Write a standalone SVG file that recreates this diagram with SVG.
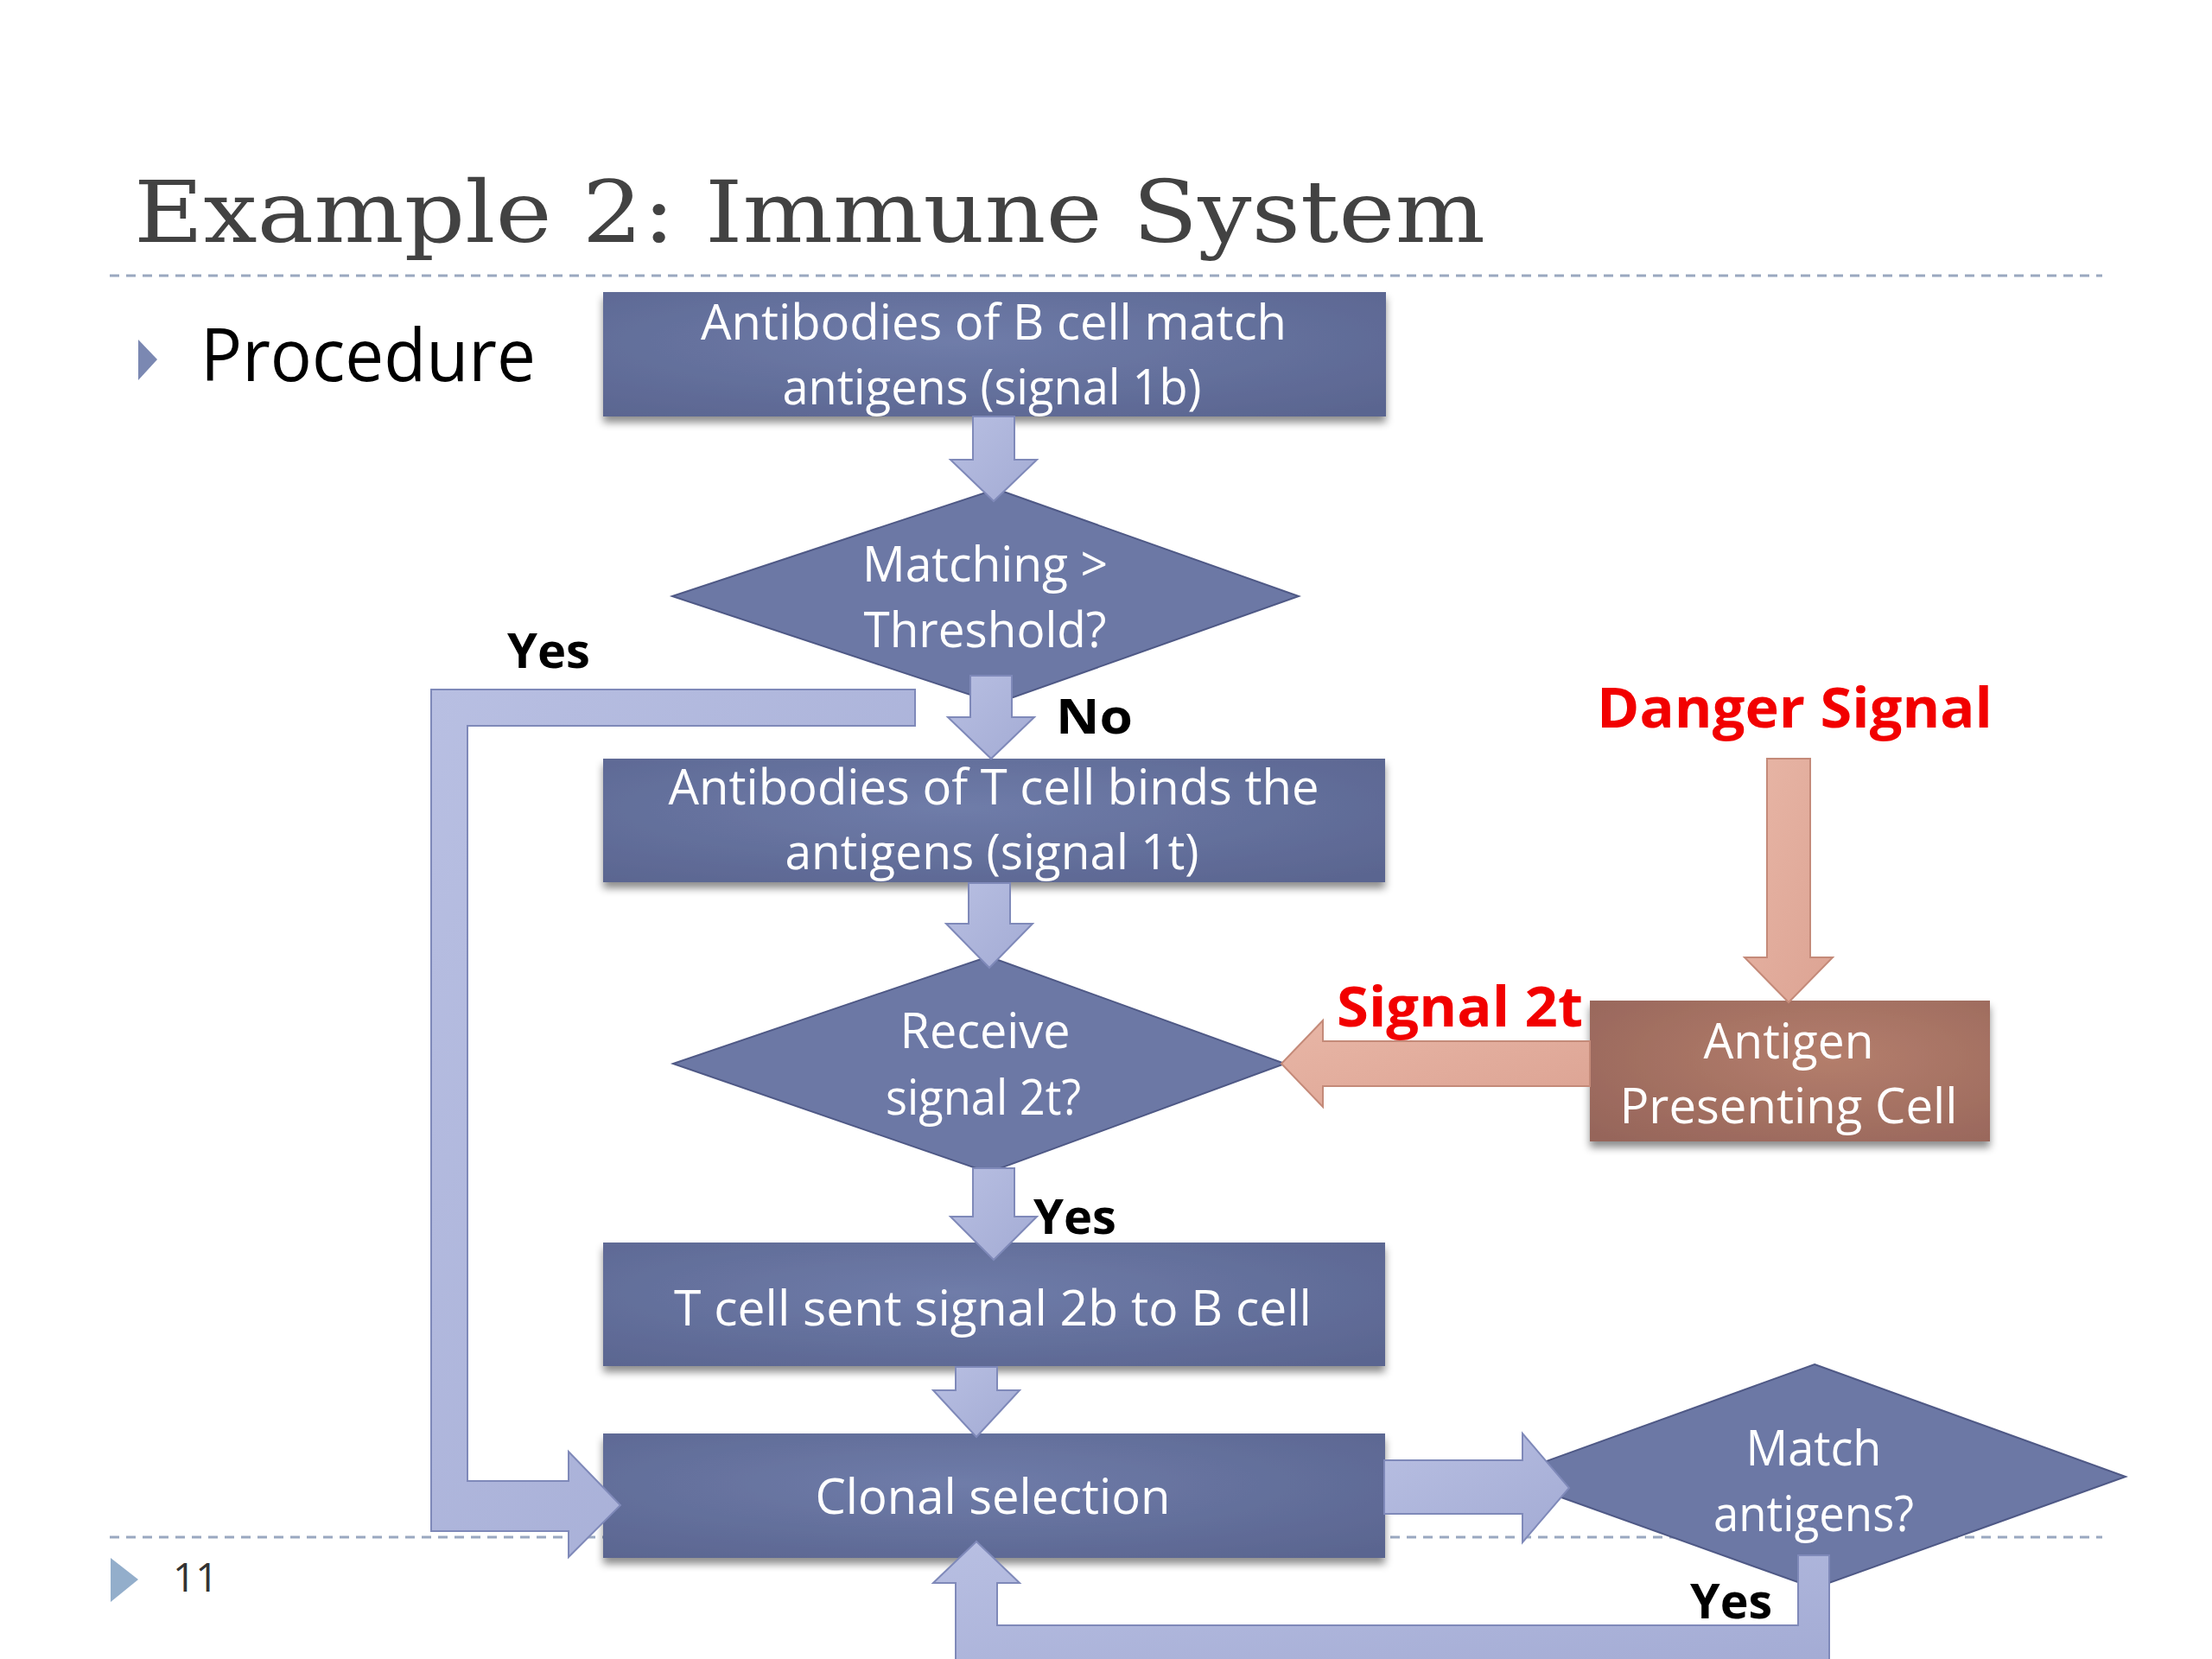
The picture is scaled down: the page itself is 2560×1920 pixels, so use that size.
<svg xmlns="http://www.w3.org/2000/svg" width="2560" height="1920" viewBox="0 0 2560 1920">
<style>
.bg{fill:#ffffff}
.title{font-family:"DejaVu Serif","Liberation Serif",serif;font-size:100px;fill:#424242}
.proc{font-family:"Open Sans","Liberation Sans",sans-serif;font-size:84px;fill:#000}
.box{fill:url(#boxGrad);filter:url(#shadow)}
.dia{fill:#6c78a5;stroke:#4f5986;stroke-width:2}
.apc{fill:url(#apcGrad);filter:url(#shadow)}
.t{font-family:"Open Sans","Liberation Sans",sans-serif;font-size:56px;fill:#ffffff;text-anchor:middle}
.lbl{font-family:"Open Sans","Liberation Sans",sans-serif;font-weight:700;font-size:56px;fill:#000}
.red{font-family:"Open Sans","Liberation Sans",sans-serif;font-weight:700;font-size:64px;fill:#f20000}
.arr{fill:url(#arrGrad);stroke:#7f89b9;stroke-width:2;stroke-linejoin:miter}
.sal{fill:url(#salGrad);stroke:#c48a79;stroke-width:2}
.dash{stroke:#9aa8c0;stroke-width:3;stroke-dasharray:11 8;fill:none}
.pg{font-family:"Open Sans","Liberation Sans",sans-serif;font-size:46px;fill:#333}
</style>
<defs>
<radialGradient id="boxGrad" cx="0.45" cy="0.4" r="0.75">
<stop offset="0" stop-color="#6f7ca9"/>
<stop offset="1" stop-color="#5a6590"/>
</radialGradient>
<radialGradient id="apcGrad" cx="0.6" cy="0.4" r="0.8">
<stop offset="0" stop-color="#b47e6c"/>
<stop offset="1" stop-color="#96655a"/>
</radialGradient>
<linearGradient id="arrGrad" x1="0" y1="0" x2="1" y2="1">
<stop offset="0" stop-color="#b8bfe2"/>
<stop offset="1" stop-color="#a3abd4"/>
</linearGradient>
<linearGradient id="salGrad" x1="0" y1="0" x2="1" y2="1">
<stop offset="0" stop-color="#e8b6a6"/>
<stop offset="1" stop-color="#dca393"/>
</linearGradient>
<filter id="shadow" x="-5%" y="-10%" width="110%" height="130%">
<feDropShadow dx="0" dy="7" stdDeviation="5" flood-color="#000" flood-opacity="0.45"/>
</filter>
</defs>
<rect class="bg" x="0" y="0" width="2560" height="1920"/>

<g id="slide">
<text class="title" x="155" y="280" textLength="1564" lengthAdjust="spacingAndGlyphs">Example 2: Immune System</text>
<line class="dash" x1="127" y1="319" x2="2433" y2="319"/>
<line class="dash" x1="127" y1="1779" x2="2433" y2="1779"/>
<polygon points="160,393 182,416 160,440" fill="#7b88b2"/>
<text class="proc" x="232" y="441" textLength="388" lengthAdjust="spacingAndGlyphs">Procedure</text>
<polygon points="128,1803 160,1828 128,1854" fill="#93aecb"/>
<text class="pg" x="200" y="1842">11</text>
</g>

<g id="node-bcell">
<rect class="box" x="698" y="338" width="906" height="144"/>
<text class="t" x="1150" y="393" textLength="678" lengthAdjust="spacingAndGlyphs">Antibodies of B cell match</text>
<text class="t" x="1148" y="468" textLength="485" lengthAdjust="spacingAndGlyphs">antigens (signal 1b)</text>
</g>
<g id="node-threshold">
<polygon class="dia" points="1153,566 1503,690 1153,814 778,690"/>
<text class="t" x="1140" y="673" textLength="284" lengthAdjust="spacingAndGlyphs">Matching &gt;</text>
<text class="t" x="1140" y="749" textLength="281" lengthAdjust="spacingAndGlyphs">Threshold?</text>
</g>
<g id="node-tcell">
<rect class="box" x="698" y="878" width="905" height="143"/>
<text class="t" x="1150" y="931" textLength="753" lengthAdjust="spacingAndGlyphs">Antibodies of T cell binds the</text>
<text class="t" x="1148" y="1006" textLength="479" lengthAdjust="spacingAndGlyphs">antigens (signal 1t)</text>
</g>
<g id="node-receive">
<polygon class="dia" points="1144,1107 1487,1231 1144,1357 779,1231"/>
<text class="t" x="1140" y="1213" textLength="197" lengthAdjust="spacingAndGlyphs">Receive</text>
<text class="t" x="1138" y="1290" textLength="226" lengthAdjust="spacingAndGlyphs">signal 2t?</text>
</g>
<g id="node-sent">
<rect class="box" x="698" y="1438" width="905" height="143"/>
<text class="t" x="1149" y="1534" textLength="738" lengthAdjust="spacingAndGlyphs">T cell sent signal 2b to B cell</text>
</g>
<g id="node-clonal">
<rect class="box" x="698" y="1659" width="905" height="144"/>
<text class="t" x="1149" y="1752" textLength="411" lengthAdjust="spacingAndGlyphs">Clonal selection</text>
</g>
<g id="node-match">
<polygon class="dia" points="2100,1579 2460,1709 2100,1838 1740,1709"/>
<text class="t" x="2099" y="1696" textLength="157" lengthAdjust="spacingAndGlyphs">Match</text>
<text class="t" x="2099" y="1772" textLength="232" lengthAdjust="spacingAndGlyphs">antigens?</text>
</g>
<g id="node-apc">
<rect class="apc" x="1840" y="1158" width="463" height="163"/>
<text class="t" x="2070" y="1225" textLength="197" lengthAdjust="spacingAndGlyphs">Antigen</text>
<text class="t" x="2070" y="1300" textLength="391" lengthAdjust="spacingAndGlyphs">Presenting Cell</text>
</g>

<g id="connectors">
<polygon class="arr" points="1126,482 1174,482 1174,532 1200,532 1150,580 1100,532 1126,532"/>
<polygon class="arr" points="1123,782 1171,782 1171,830 1197,830 1147,878 1097,830 1123,830"/>
<polygon class="arr" points="1121,1022 1169,1022 1169,1069 1195,1069 1145,1120 1095,1069 1121,1069"/>
<polygon class="arr" points="1126,1352 1174,1352 1174,1408 1200,1408 1150,1458 1100,1408 1126,1408"/>
<polygon class="arr" points="1106,1582 1154,1582 1154,1609 1180,1609 1130,1663 1080,1609 1106,1609"/>
<polygon class="arr" points="1602,1690 1762,1690 1762,1659 1816,1722 1762,1785 1762,1752 1602,1752"/>
<polygon class="arr" points="1059,798 499,798 499,1772 658,1772 658,1802 718,1742 658,1680 658,1714 541,1714 541,840 1059,840"/>
<polygon class="arr" points="2081,1800 2117,1800 2117,1930 1106,1930 1106,1832 1080,1832 1130,1784 1180,1832 1154,1832 1154,1881 2081,1881"/>
<polygon class="sal" points="2045,878 2095,878 2095,1108 2121,1108 2070,1160 2019,1108 2045,1108"/>
<polygon class="sal" points="1840,1205 1531,1205 1531,1181 1483,1231 1531,1281 1531,1257 1840,1257"/>
</g>

<g id="labels">
<text class="lbl" x="587" y="773" textLength="96" lengthAdjust="spacingAndGlyphs">Yes</text>
<text class="lbl" x="1222" y="849" textLength="89" lengthAdjust="spacingAndGlyphs">No</text>
<text class="lbl" x="1196" y="1428" textLength="96" lengthAdjust="spacingAndGlyphs">Yes</text>
<text class="lbl" x="1956" y="1873" textLength="95" lengthAdjust="spacingAndGlyphs">Yes</text>
<text class="red" x="1848" y="842" textLength="458" lengthAdjust="spacingAndGlyphs">Danger Signal</text>
<text class="red" x="1547" y="1188" textLength="285" lengthAdjust="spacingAndGlyphs">Signal 2t</text>
</g>
</svg>
